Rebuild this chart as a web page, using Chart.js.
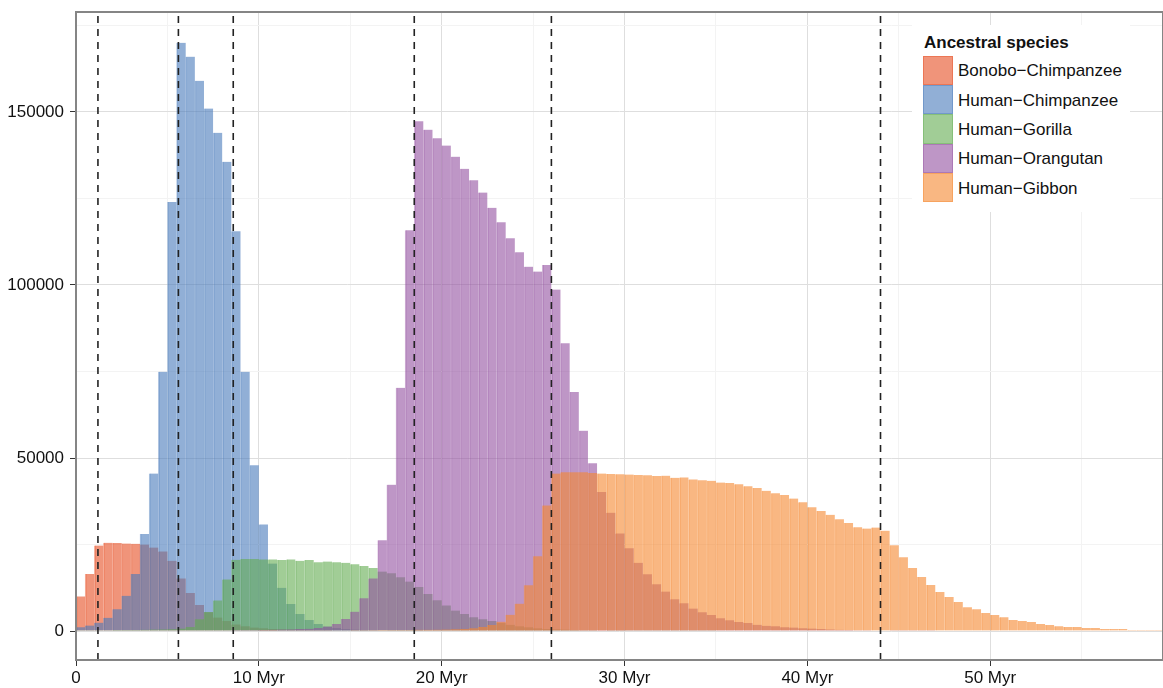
<!DOCTYPE html>
<html>
<head>
<meta charset="utf-8">
<script src="https://cdn.jsdelivr.net/npm/chart.js@4.4.1/dist/chart.umd.min.js"></script>
<style>
  html, body { margin: 0; padding: 0; background: #fff; }
  #wrap { position: relative; width: 1163px; height: 688px; }
  #legend { position: absolute; left: 912px; top: 25px; width: 218px; height: 187px; background: #fff;
            font-family: "Liberation Sans", Arial, Helvetica, sans-serif; color: #111; }
  #legend .title { position: absolute; left: 12px; top: 8.6px; font-weight: bold; font-size: 17px; line-height: 17px; white-space: nowrap; }
  #legend .sw { position: absolute; left: 11px; width: 30px; height: 29.3px; box-sizing: border-box; }
  #legend .lab { position: absolute; left: 46px; font-size: 17px; line-height: 17px; white-space: nowrap; }
</style>
</head>
<body>
<div id="wrap">
  <canvas id="chart" width="1163" height="688"></canvas>
  <div id="legend"></div>
</div>
<script>
// ================= DATA =================
var species = ["Bonobo−Chimpanzee", "Human−Chimpanzee", "Human−Gorilla", "Human−Orangutan", "Human−Gibbon"];

// counts per 0.5 Myr bin, starting at 0 Myr (119 bins)
var binWidth = 0.5;

var bonoboChimp = [
  10000, 16500, 24700, 25500, 25400, 25300, 25200, 25000, 24100, 23000,
  20300, 15200, 11000, 7500, 5400, 3900, 2900, 1900, 1400, 1000,
  800, 600, 500, 450, 400, 350, 300, 300, 250, 250,
  200, 200, 200, 150, 150, 150, 150, 100, 100, 100,
  100, 100, 100, 100, 100, 100, 100, 100, 50, 50,
  50, 50, 50, 50, 50, 50, 50, 50, 50, 50,
  0, 0, 0, 0, 0, 0, 0, 0, 0, 0,
  0, 0, 0, 0, 0, 0, 0, 0, 0, 0,
  0, 0, 0, 0, 0, 0, 0, 0, 0, 0,
  0, 0, 0, 0, 0, 0, 0, 0, 0, 0,
  0, 0, 0, 0, 0, 0, 0, 0, 0, 0,
  0, 0, 0, 0, 0, 0, 0, 0, 0
];

var humanChimp = [
  1100, 1600, 2400, 3800, 6300, 10200, 16500, 28000, 45500, 74900,
  124000, 170000, 166000, 159000, 151000, 144000, 135600, 115500, 74900, 47900,
  30800, 19500, 12500, 7800, 4900, 3200, 2000, 1300, 900, 600,
  400, 300, 200, 150, 100, 100, 50, 50, 0, 0,
  0, 0, 0, 0, 0, 0, 0, 0, 0, 0,
  0, 0, 0, 0, 0, 0, 0, 0, 0, 0,
  0, 0, 0, 0, 0, 0, 0, 0, 0, 0,
  0, 0, 0, 0, 0, 0, 0, 0, 0, 0,
  0, 0, 0, 0, 0, 0, 0, 0, 0, 0,
  0, 0, 0, 0, 0, 0, 0, 0, 0, 0,
  0, 0, 0, 0, 0, 0, 0, 0, 0, 0,
  0, 0, 0, 0, 0, 0, 0, 0, 0
];

var humanGorilla = [
  200, 200, 250, 250, 300, 300, 300, 350, 400, 450,
  500, 700, 1150, 3400, 5500, 8850, 14900, 20600, 20800, 20800,
  20700, 20700, 20500, 20700, 20300, 20500, 19900, 20100, 19900, 19700,
  19300, 18800, 18200, 17200, 16700, 15500, 14300, 12700, 10700, 8900,
  7400, 5900, 4900, 4000, 3400, 2900, 2300, 1800, 1400, 1100,
  800, 600, 500, 400, 300, 250, 200, 150, 100, 100,
  50, 50, 50, 50, 50, 50, 50, 50, 50, 50,
  0, 0, 0, 0, 0, 0, 0, 0, 0, 0,
  0, 0, 0, 0, 0, 0, 0, 0, 0, 0,
  0, 0, 0, 0, 0, 0, 0, 0, 0, 0,
  0, 0, 0, 0, 0, 0, 0, 0, 0, 0,
  0, 0, 0, 0, 0, 0, 0, 0, 0
];

var humanOrangutan = [
  0, 0, 0, 0, 0, 0, 0, 0, 0, 0,
  0, 0, 0, 0, 0, 0, 150, 200, 200, 250,
  300, 350, 400, 450, 550, 650, 900, 1300, 2000, 3500,
  5600, 9500, 15200, 26200, 42300, 70300, 115800, 147300, 144900, 142400,
  140300, 137100, 133600, 130300, 126700, 122300, 118100, 113500, 109500, 105300,
  103900, 105800, 98700, 83200, 69100, 57900, 48500, 40200, 34200, 28200,
  23900, 19700, 16400, 13500, 11400, 9200, 8000, 6500, 5400, 4600,
  3700, 3100, 2600, 2300, 1800, 1500, 1400, 1100, 1000, 800,
  700, 550, 450, 350, 300, 250, 200, 150, 120, 100,
  80, 60, 50, 50, 0, 0, 0, 0, 0, 0,
  0, 0, 0, 0, 0, 0, 0, 0, 0, 0,
  0, 0, 0, 0, 0, 0, 0, 0, 0
];

var humanGibbon = [
  0, 0, 0, 0, 0, 0, 0, 0, 0, 0,
  0, 0, 0, 0, 0, 0, 0, 0, 0, 0,
  100, 100, 120, 120, 140, 140, 160, 160, 180, 180,
  200, 220, 240, 260, 280, 300, 320, 340, 360, 380,
  420, 480, 580, 770, 1150, 1700, 2700, 4700, 7900, 13200,
  21600, 36300, 45500, 45900, 45900, 45900, 45700, 45500, 45400, 45300,
  45200, 45100, 45000, 44800, 44900, 44300, 44400, 43800, 43600, 43400,
  42900, 42800, 42400, 41800, 41300, 40500, 39800, 39300, 38300, 37200,
  35800, 34700, 33600, 32300, 31200, 30000, 29600, 29900, 29000, 24800,
  21300, 18200, 15600, 13300, 11300, 9800, 8400, 6900, 6300, 5200,
  4600, 4000, 3200, 2900, 2600, 2000, 1700, 1400, 1150, 1150,
  870, 870, 580, 580, 580, 300, 300, 300, 300
];

// dashed reference lines (Myr)
var markers = [1.2, 5.6, 8.6, 18.5, 26.0, 44.0];

// axis ticks
var xTickValues = [0, 10, 20, 30, 40, 50];
var xTickLabels = ["0", "10 Myr", "20 Myr", "30 Myr", "40 Myr", "50 Myr"];
var xMinorValues = [5, 15, 25, 35, 45, 55];
var yTickValues = [0, 50000, 100000, 150000];
var yTickLabels = ["0", "50000", "100000", "150000"];
var yMinorValues = [25000, 75000, 125000, 175000];

var xMin = 0, xMax = 59.45;
var yMin = -8380, yMax = 178900;

// ================= STYLE =================
var fills = [
  "rgba(230,77,33,0.6)",
  "rgba(72,122,187,0.6)",
  "rgba(98,172,80,0.6)",
  "rgba(147,80,160,0.6)",
  "rgba(245,135,47,0.6)"
];
var edges = [
  "rgba(230,77,33,0.42)",
  "rgba(72,122,187,0.42)",
  "rgba(98,172,80,0.42)",
  "rgba(147,80,160,0.42)",
  "rgba(245,135,47,0.42)"
];

Chart.defaults.font.family = '"Liberation Sans", Arial, Helvetica, sans-serif';
Chart.defaults.font.size = 17;
Chart.defaults.color = "#111";

function isMajor(list, v) {
  return list.indexOf(v) !== -1;
}

// ================= DATASETS =================
var seriesList = [bonoboChimp, humanChimp, humanGorilla, humanOrangutan, humanGibbon];

var datasets = seriesList.map(function (vals, k) {
  return {
    type: "bar",
    label: species[k],
    data: vals.map(function (v, i) { return { x: (i + 0.5) * binWidth, y: v }; }),
    backgroundColor: fills[k],
    borderColor: edges[k],
    borderWidth: { left: 1, right: 0, top: 0, bottom: 0 },
    borderSkipped: false,
    barPercentage: 1,
    categoryPercentage: 1,
    grouped: false,
    order: 5 - k
  };
});

markers.forEach(function (m) {
  datasets.push({
    type: "line",
    label: "",
    data: [{ x: m, y: yMin }, { x: m, y: yMax }],
    borderColor: "#222",
    borderWidth: 1.6,
    borderDash: [7, 6],
    pointRadius: 0,
    order: 0
  });
});

// panel border like the original
var panelBorder = {
  id: "panelBorder",
  afterDraw: function (chart) {
    var a = chart.chartArea;
    var ctx = chart.ctx;
    ctx.save();
    ctx.strokeStyle = "#858585";
    ctx.lineWidth = 2;
    ctx.strokeRect(a.left, a.top, a.right - a.left, a.bottom - a.top);
    ctx.restore();
  }
};

// ================= CHART =================
var ctx = document.getElementById("chart").getContext("2d");
var chart = new Chart(ctx, {
  type: "bar",
  data: { datasets: datasets },
  plugins: [panelBorder],
  options: {
    responsive: false,
    animation: false,
    devicePixelRatio: 1,
    layout: { padding: { top: 12, right: 0, bottom: 0, left: 0 } },
    plugins: {
      legend: { display: false },
      tooltip: { enabled: false }
    },
    scales: {
      x: {
        type: "linear",
        min: xMin,
        max: xMax,
        offset: false,
        border: { display: false },
        grid: {
          offset: false,
          lineWidth: 1,
          tickLength: 6,
          color: function (c) { return isMajor(xTickValues, c.tick.value) ? "#dedede" : "#f3f3f3"; },
          tickColor: function (c) { return isMajor(xTickValues, c.tick.value) ? "#333" : "rgba(0,0,0,0)"; }
        },
        afterBuildTicks: function (s) {
          s.ticks = xTickValues.concat(xMinorValues).sort(function (a, b) { return a - b; })
            .map(function (v) { return { value: v }; });
        },
        ticks: {
          autoSkip: false,
          maxRotation: 0,
          padding: 2,
          callback: function (v) {
            var i = xTickValues.indexOf(v);
            return i === -1 ? "" : xTickLabels[i];
          }
        },
        afterFit: function (s) {
          s.height = 28;
          s.paddingLeft = 0; s.paddingRight = 0; s.paddingTop = 0; s.paddingBottom = 0;
        }
      },
      y: {
        type: "linear",
        min: yMin,
        max: yMax,
        border: { display: false },
        grid: {
          lineWidth: 1,
          tickLength: 6,
          color: function (c) { return isMajor(yTickValues, c.tick.value) ? "#dedede" : "#f3f3f3"; },
          tickColor: function (c) { return isMajor(yTickValues, c.tick.value) ? "#333" : "rgba(0,0,0,0)"; }
        },
        afterBuildTicks: function (s) {
          s.ticks = yTickValues.concat(yMinorValues).sort(function (a, b) { return a - b; })
            .map(function (v) { return { value: v }; });
        },
        ticks: {
          autoSkip: false,
          padding: 6,
          callback: function (v) {
            var i = yTickValues.indexOf(v);
            return i === -1 ? "" : yTickLabels[i];
          }
        },
        afterFit: function (s) {
          s.width = 76;
          s.paddingLeft = 0; s.paddingRight = 0; s.paddingTop = 0; s.paddingBottom = 0;
        }
      }
    }
  }
});

// ================= LEGEND =================
var legend = document.getElementById("legend");
var html = '<div class="title">Ancestral species</div>';
species.forEach(function (name, k) {
  var top = 30.7 + 29.3 * k;
  html += '<div class="sw" style="top:' + top + 'px;background:' + fills[k] + ';border:1px solid ' + edges[k] + '"></div>';
  html += '<div class="lab" style="top:' + (top + 6.6) + 'px">' + name + '</div>';
});
legend.innerHTML = html;
</script>
</body>
</html>
